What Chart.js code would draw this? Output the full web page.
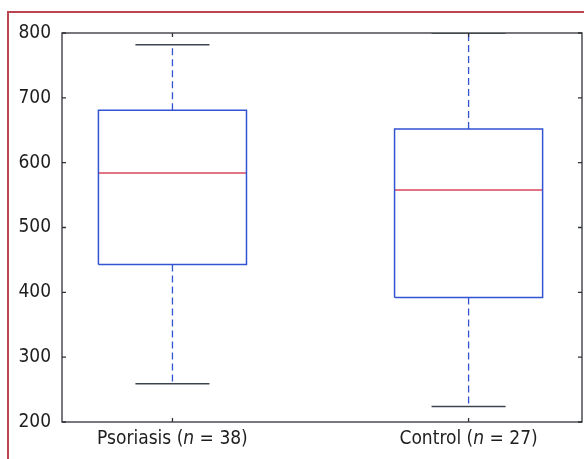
<!DOCTYPE html>
<html>
<head>
<meta charset="utf-8">
<script src="https://cdn.jsdelivr.net/npm/chart.js@4.4.0/dist/chart.umd.min.js"></script>
<style>
  body { margin: 0; background: #fff; }
  #wrap { position: relative; width: 584px; height: 459px; }
  #frame { position: absolute; left: 7px; top: 11px; right: 0; bottom: 0;
           border-left: 2px solid #bb4651; border-top: 2px solid #bb4651; pointer-events: none; }
</style>
</head>
<body>
<div id="wrap">
  <canvas id="myChart" width="584" height="459"></canvas>
  <div id="frame"></div>
</div>
<script>
// box plot values
var groups = ["Psoriasis", "Control"];
var counts = [38, 27];
var mins = [259, 224];
var q1s = [443, 392];
var medians = [584, 558];
var q3s = [681, 652];
var maxs = [782, 800];
var yTicks = [200, 300, 400, 500, 600, 700, 800];

var boxHalf = 0.25, capHalf = 0.125;
var gap = {x: NaN, y: null};

var boxPts = [], medPts = [], whiskPts = [], capPts = [];
groups.forEach(function (g, i) {
    var c = i + 1;
    boxPts.push({x: c - boxHalf, y: q1s[i]}, {x: c + boxHalf, y: q1s[i]},
                {x: c + boxHalf, y: q3s[i]}, {x: c - boxHalf, y: q3s[i]},
                {x: c - boxHalf, y: q1s[i]}, gap);
    medPts.push({x: c - boxHalf, y: medians[i]}, {x: c + boxHalf, y: medians[i]}, gap);
    whiskPts.push({x: c, y: q3s[i]}, {x: c, y: maxs[i]}, gap,
                  {x: c, y: q1s[i]}, {x: c, y: mins[i]}, gap);
    capPts.push({x: c - capHalf, y: maxs[i]}, {x: c + capHalf, y: maxs[i]}, gap,
                {x: c - capHalf, y: mins[i]}, {x: c + capHalf, y: mins[i]}, gap);
});

var font = "'Liberation Sans Narrow', 'DejaVu Sans Condensed', sans-serif";

var frameTicks = {
    id: 'frameTicks',
    afterDraw: function (chart) {
        var ctx = chart.ctx, a = chart.chartArea;
        var xs = chart.scales.x, ys = chart.scales.y;
        ctx.save();
        ctx.strokeStyle = '#2e3236';
        ctx.lineWidth = 1.3;
        ctx.strokeRect(a.left, a.top, a.right - a.left, a.bottom - a.top);
        ctx.beginPath();
        yTicks.forEach(function (v) {
            var y = ys.getPixelForValue(v);
            ctx.moveTo(a.left, y); ctx.lineTo(a.left + 4, y);
            ctx.moveTo(a.right, y); ctx.lineTo(a.right - 4, y);
        });
        groups.forEach(function (g, i) {
            var x = xs.getPixelForValue(i + 1);
            ctx.moveTo(x, a.bottom); ctx.lineTo(x, a.bottom - 4);
            ctx.moveTo(x, a.top); ctx.lineTo(x, a.top + 4);
        });
        ctx.stroke();

        // category labels with italic n
        ctx.fillStyle = '#1e1e1e';
        ctx.textBaseline = 'top';
        ctx.textAlign = 'left';
        groups.forEach(function (g, i) {
            var parts = [[g + ' (', ''], ['n', 'italic '], [' = ' + counts[i] + ')', '']];
            var w = 0;
            parts.forEach(function (p) { ctx.font = p[1] + '19px ' + font; w += ctx.measureText(p[0]).width; });
            var x = xs.getPixelForValue(i + 1) - w / 2;
            parts.forEach(function (p) {
                ctx.font = p[1] + '19px ' + font;
                ctx.fillText(p[0], x, a.bottom + 8);
                x += ctx.measureText(p[0]).width;
            });
        });
        ctx.restore();
    }
};

var chart = new Chart(document.getElementById("myChart").getContext('2d'), {
    type: 'scatter',
    data: {
        datasets: [
            {label: 'box', data: boxPts, borderColor: '#3253d2', borderWidth: 1.5},
            {label: 'whisker', data: whiskPts, borderColor: '#3253d2', borderWidth: 1.3, borderDash: [7, 4]},
            {label: 'cap', data: capPts, borderColor: '#3d4650', borderWidth: 1.5},
            {label: 'median', data: medPts, borderColor: '#d9475e', borderWidth: 1.5}
        ].map(function (d) {
            d.showLine = true; d.pointRadius = 0; d.spanGaps = false;
            d.borderCapStyle = 'butt'; d.fill = false;
            return d;
        })
    },
    options: {
        responsive: false,
        animation: false,
        layout: {padding: {top: 33, right: 2, left: 0, bottom: 0}},
        plugins: {legend: {display: false}, tooltip: {enabled: false}},
        scales: {
            x: {
                type: 'linear', min: 0.627, max: 2.383,
                afterBuildTicks: function (s) {
                    s.ticks = groups.map(function (g, i) { return {value: i + 1}; });
                },
                afterFit: function (s) { s.height = 37; },
                grid: {display: false, drawTicks: false},
                border: {display: false},
                ticks: {display: false}
            },
            y: {
                min: 200, max: 800,
                afterBuildTicks: function (s) {
                    s.ticks = yTicks.map(function (v) { return {value: v}; });
                },
                afterFit: function (s) { s.width = 62; },
                grid: {display: false, drawTicks: false},
                border: {display: false},
                ticks: {padding: 11, color: '#1e1e1e', font: {family: font, size: 19}}
            }
        }
    },
    plugins: [frameTicks]
});
</script>
</body>
</html>
